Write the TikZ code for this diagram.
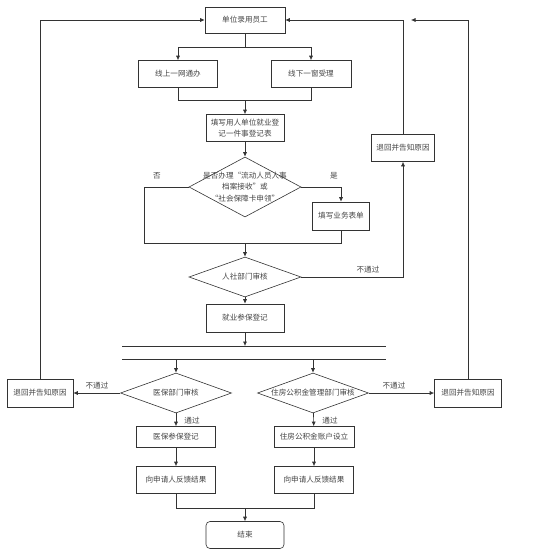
\documentclass[tikz,border=0pt]{standalone}
\usepackage{fontspec}
\setmainfont{Noto Sans CJK SC}
\usetikzlibrary{positioning,shapes.geometric,arrows.meta}
\definecolor{lncol}{HTML}{333333}
\definecolor{txcol}{HTML}{444444}

\begin{document}
\begin{tikzpicture}[x=1pt, y=-1pt,
  font=\fontsize{7.6}{11.5}\selectfont,
  every node/.style={text=txcol},
  box/.style={draw=lncol, line width=0.6pt, minimum height=27pt,
              inner sep=2pt, align=center},
  dec/.style={diamond, draw=lncol, line width=0.6pt, inner sep=0pt,
              aspect=2.8, minimum width=112pt, minimum height=40pt},
  lbl/.style={inner sep=1pt},
  ln/.style={draw=lncol, line width=0.6pt},
  arr/.style={ln, -{Latex[length=4.5pt,width=4pt]}},
]
\useasboundingbox (0,0) rectangle (539,554);

% main column
\node[box, minimum width=80pt, minimum height=26pt] (start) at (245,20) {单位录用员工};
\node[box, minimum width=79pt] (online) at (178,74) {线上一网通办};
\node[box, minimum width=80pt] (offline) at (311,74) {线下一窗受理};
\node[box, minimum width=78pt] (form) at (245,128) {填写用人单位就业登\\记一件事登记表};

\node[dec, minimum height=60pt] (ask) at (245,187) {};
\node[align=center, inner sep=0pt] (asktxt) at (ask) {是否办理“流动人员人事\\档案接收”或\\“社会保障卡申领”};
\node[box, minimum width=57pt, minimum height=28pt] (biz) at (341,216) {填写业务表单};

\node[dec] (hr) at (245,277) {人社部门审核};
\node[box, minimum width=78pt, minimum height=28pt] (reg) at (245,318) {就业参保登记};
\node[box, minimum width=63pt] (backm) at (403,148) {退回并告知原因};

% fork bar
\coordinate (barAL) at (122,346);
\coordinate (barAR) at (386,346);
\coordinate (barBL) at (122,359);
\coordinate (barBR) at (386,359);
\draw[ln] (barAL) -- (barAR);
\draw[ln] (barBL) -- (barBR);

% two branches
\node[dec, minimum width=111pt] (med) at (176,393) {医保部门审核};
\node[dec, minimum width=111pt] (fund) at (313,393) {};
\node[inner sep=0pt] (fundtxt) at (fund) {住房公积金管理部门审核};
\node[box, minimum width=66pt, minimum height=28pt] (backl) at (40,393) {退回并告知原因};
\node[box, minimum width=67pt, minimum height=28pt] (backr) at (468,393) {退回并告知原因};
\node[box, minimum width=79pt, minimum height=21pt] (medreg) at (176,437) {医保参保登记};
\node[box, minimum width=80pt, minimum height=21pt] (fundreg) at (314,437) {住房公积金账户设立};
\node[box, minimum width=79pt] (fbl) at (176,480) {向申请人反馈结果};
\node[box, minimum width=79pt] (fbr) at (314,480) {向申请人反馈结果};
\node[box, minimum width=78pt, rounded corners=4pt] (finish) at (245,535) {结束};

% junctions
\coordinate (split) at (245,47);
\coordinate (join1) at (245,100);
\coordinate (join2) at (245,243);
\coordinate (join3) at (245,508);
\coordinate (rrend) at (411,20);

\draw[ln] (start) -- (split);
\draw[arr] (split) -| (online);
\draw[arr] (split) -| (offline);
\draw[ln] (online) |- (join1);
\draw[ln] (offline) |- (join1);
\draw[arr] (join1) -- (form);
\draw[arr] (form) -- (ask);

\draw[ln] (ask.west) -- ++(-44,0) |- (join2);
\draw[arr] (ask.east) -| (biz);
\draw[ln] (biz) |- (join2);
\draw[arr] (join2) -- (hr);

\draw[arr] (hr.east) -| (backm);
\draw[arr] (backm) |- (start);
\draw[arr] (hr) -- (reg);
\draw[arr] (reg) -- (reg |- barAL);

\draw[arr] (med |- barBL) -- (med);
\draw[arr] (fund |- barBL) -- (fund);
\draw[arr] (med) -- (backl);
\draw[arr] (fund) -- (backr);
\draw[arr] (backl) |- (start);
\draw[arr] (backr) |- (rrend);
\draw[arr] (med) -- (medreg);
\draw[arr] (fund) -- (fundreg);
\draw[arr] (medreg) -- (fbl);
\draw[arr] (fundreg) -- (fbr);
\draw[ln] (fbl) |- (join3);
\draw[ln] (fbr) |- (join3);
\draw[arr] (join3) -- (finish);

% labels
\node[lbl] (no1) at (157,176) {否};
\node[lbl] (yes1) at (334,176) {是};
\node[lbl] (fail1) at (368,270) {不通过};
\node[lbl] (fail2) at (97,386) {不通过};
\node[lbl] (fail3) at (394,386) {不通过};
\node[lbl] (pass1) at (192,421) {通过};
\node[lbl] (pass2) at (330,421) {通过};
\end{tikzpicture}
\end{document}
